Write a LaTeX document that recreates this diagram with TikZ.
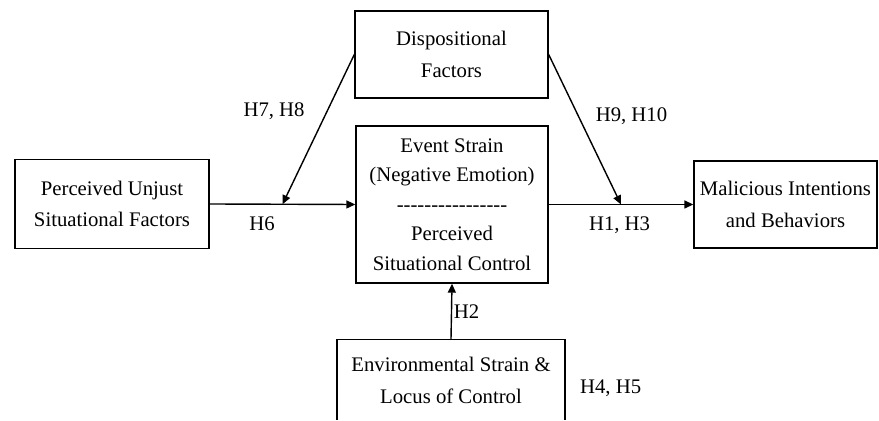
\documentclass[tikz,border=0pt]{standalone}
\usepackage{fontspec}
\setmainfont{Liberation Serif}
\usetikzlibrary{arrows.meta,positioning,calc}
\newcommand{\dashrow}{-{}-{}-{}-{}-{}-{}-{}-{}-{}-{}-{}-{}-{}-{}-{}-}
\tikzset{
  factor/.style={draw,line width=0.8pt,align=center,inner sep=0pt,
                 font=\fontsize{11.8}{18}\selectfont},
  hyp/.style={font=\fontsize{11.8}{13}\selectfont,inner sep=1pt},
  arr/.style={-{Triangle[length=0.18cm,width=0.16cm]},line width=0.8pt},
}

\begin{document}
\begin{tikzpicture}[x=0.02cm,y=-0.02cm]
        \useasboundingbox (0,0) rectangle (879,421);
        \clip (0,0) rectangle (879,420);
        \node[factor,minimum width=3.86cm,minimum height=1.74cm] (disp) at (451.5,54.5) {Dispositional\\Factors};
        \node[factor,minimum width=3.84cm,minimum height=3.14cm,font=\fontsize{11.8}{16.8}\selectfont] (event) at (452,204.5)
          {Event Strain\\(Negative Emotion)\\\dashrow\\Perceived\\Situational Control};
        \node[factor,minimum width=3.88cm,minimum height=1.78cm] (unjust) at (112,204) {Perceived Unjust\\Situational Factors};
        \node[factor,minimum width=3.66cm,minimum height=1.74cm] (malic) at (785.5,204.5) {Malicious Intentions\\and Behaviors};
        \node[factor,minimum width=4.56cm,minimum height=1.64cm,anchor=north] (env) at (451,339) {Environmental Strain \&\\Locus of Control};
        \coordinate (m1) at ($(unjust.east)!0.5!(event.west)$);
        \coordinate (m2) at ($(event.east)!0.5!(malic.west)$);
        \draw[arr] (unjust.east)--(event.west) node[hyp,pos=0.36,below=0.2cm]{H6};
        \draw[arr] (event.east)--(malic.west) node[hyp,pos=0.49,below=0.2cm]{H1, H3};
        \draw[arr] (env.north)--(event.south) node[hyp,pos=0.5,right=0pt]{H2};
        \draw[arr] (disp.west)--(m1) node[hyp,pos=0.38,left=0.4cm]{H7, H8};
        \draw[arr] (disp.east)--(m2) node[hyp,pos=0.41,right=0.3cm]{H9, H10};
        \node[hyp,anchor=west] (h45) at (578,388) {H4, H5};
      \end{tikzpicture}
\end{document}
